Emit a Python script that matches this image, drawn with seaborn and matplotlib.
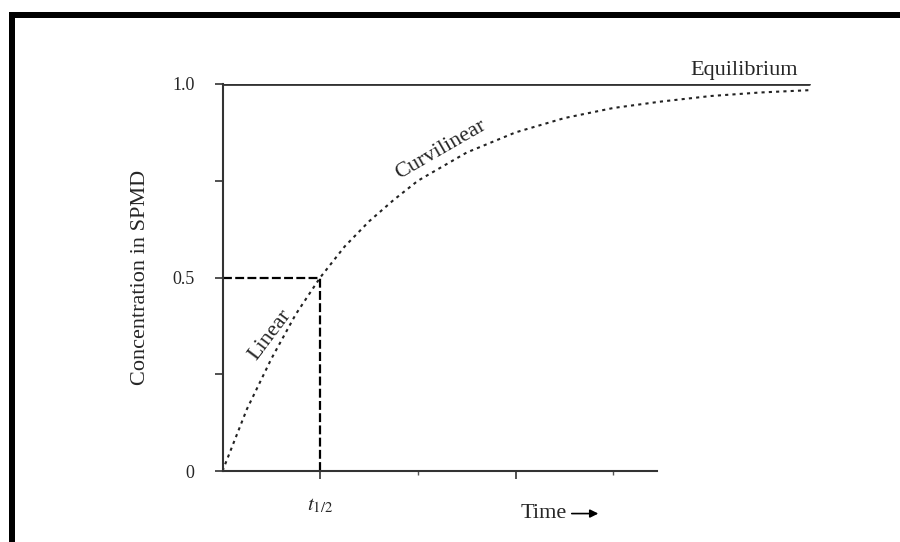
import matplotlib
matplotlib.use("Agg")
import matplotlib.pyplot as plt
import seaborn as sns
import pandas as pd
from matplotlib.patches import Rectangle

# ---- data ----
time = [0.0, 0.25, 0.5, 0.75, 1.0, 1.25, 1.5, 1.75, 2.0, 2.5, 3.0, 3.5, 4.0, 4.5, 5.0, 5.5, 6.0]
conc = [0.0, 0.16, 0.29, 0.405, 0.50, 0.58, 0.645, 0.70, 0.75, 0.823, 0.875, 0.912, 0.938, 0.955, 0.969, 0.978, 0.984]
eq_time = [0.0, 6.0]
eq_conc = [1.0, 1.0]
t_half = 1.0
c_half = 0.5
ytick_vals = [0, 0.25, 0.5, 0.75, 1.0]
ytick_labels = ["0", "", "0.5", "", "1.0"]
xtick_major = [1, 3]
xtick_minor = [2, 4]
xtick_labels = [r"$t_{1/2}$", ""]

sns.set_theme(style="white")
plt.rcParams["font.family"] = ["Liberation Serif", "DejaVu Serif"]
plt.rcParams["mathtext.fontset"] = "stix"

fig = plt.figure(figsize=(9, 5.42), dpi=100)
ax = fig.add_axes([222.5 / 900, 1 - 471 / 542, (6.2 * 97.7) / 900, (471 - 84) / 542])

df = pd.DataFrame({"Time": time, "Conc": conc})
sns.lineplot(data=df, x="Time", y="Conc", ax=ax, color="#222222", linewidth=1.5,
             linestyle=(0, (1.5, 2.0)))
sns.lineplot(x=eq_time, y=eq_conc, ax=ax, color="#333333", linewidth=2.0)

ax.hlines(c_half, 0, t_half, colors="black", linestyles=(0, (4, 1.5)), lw=1.6)
ax.vlines(t_half, 0, c_half, colors="black", linestyles=(0, (4, 1.5)), lw=1.6)

ax.set_xlim(0, 6.2)
ax.set_ylim(0, 1.0)

for s in ["top", "right"]:
    ax.spines[s].set_visible(False)
ax.spines["left"].set_bounds(0, 1.0)
ax.spines["bottom"].set_bounds(0, 4.45)
ax.spines["left"].set_color("#333333")
ax.spines["bottom"].set_color("#333333")
ax.spines["left"].set_linewidth(1.5)
ax.spines["bottom"].set_linewidth(1.5)

ax.set_yticks(ytick_vals)
ax.set_yticklabels(ytick_labels)
ax.set_xticks(xtick_major)
ax.set_xticklabels(xtick_labels)
ax.set_xticks(xtick_minor, minor=True)
ax.tick_params(axis="y", which="major", direction="out", length=6, width=1.2,
               color="#333333", pad=14, labelsize=13, left=True)
ax.tick_params(axis="x", which="major", direction="out", length=6, width=1.2,
               color="#333333", pad=12, labelsize=15, bottom=True)
ax.tick_params(axis="x", which="minor", direction="out", length=3, width=1.0,
               color="#555555", bottom=True)
ax.set_xlabel("")
ax.set_ylabel("Concentration in SPMD", fontsize=16, labelpad=16)

ax.text(5.34, 1.035, "Equilibrium", fontsize=16, ha="center", va="center", clip_on=False)
ax.text(2.23, 0.83, "Curvilinear", fontsize=16, ha="center", va="center", rotation=30)
ax.text(0.49, 0.35, "Linear", fontsize=16, ha="center", va="center", rotation=53)

ax.text(0.53, -0.11, "Time", transform=ax.transAxes, fontsize=16, ha="center", va="center")
ax.annotate("", xy=(0.625, -0.11), xytext=(0.572, -0.11), xycoords="axes fraction",
            arrowprops=dict(arrowstyle="-|>", color="black", lw=1.2, mutation_scale=12))

# scanned page border (top and left)
fig.add_artist(Rectangle((9 / 900, 1 - 18 / 542), 1, 6 / 542, transform=fig.transFigure,
                         color="black", lw=0))
fig.add_artist(Rectangle((9 / 900, 0), 6 / 900, 1 - 12 / 542, transform=fig.transFigure,
                         color="black", lw=0))

fig.savefig("out.png", dpi=100, facecolor="white")
